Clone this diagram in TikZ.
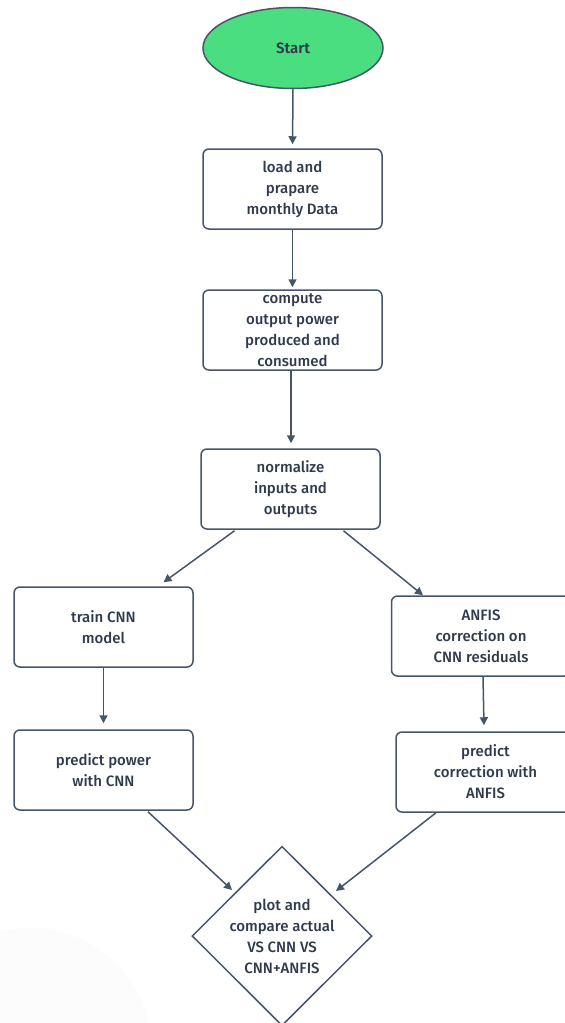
\documentclass[tikz,border=0pt]{standalone}
\usepackage{fontspec}
\setmainfont{Fira Sans}[UprightFont={* Medium},BoldFont={* SemiBold}]
\usetikzlibrary{arrows.meta,shapes.geometric,calc}
\definecolor{edge}{HTML}{475569}
\definecolor{ink}{HTML}{2F3A4C}
\definecolor{startgreen}{HTML}{4ADE80}
\definecolor{haze}{HTML}{FCFCFD}
\tikzset{
  txt/.style={text=ink, font=\fontsize{15}{21}\selectfont},
  stepbox/.style={draw=edge, line width=1.5pt, rounded corners=6pt, fill=white,
    minimum width=179pt, minimum height=80pt, inner sep=0pt,
    align=center, txt},
  startnode/.style={ellipse, draw=edge, line width=1.5pt, fill=startgreen,
    minimum width=180pt, minimum height=81pt, inner sep=0pt,
    text=ink, font=\fontsize{15}{21}\selectfont\bfseries},
  decide/.style={diamond, draw=edge, line width=1.5pt, fill=white,
    minimum width=180pt, minimum height=178pt, inner sep=0pt, aspect=1,
    align=center, txt},
  flow/.style={draw=edge, line width=1.5pt,
    -{Triangle[length=8pt,width=8pt]}},
}
\begin{document}
\begin{tikzpicture}[x=1pt,y=-1pt]
  \useasboundingbox (0,0) rectangle (565,1023);
  \fill[white] (0,0) rectangle (565,1023);
  \begin{scope}
    \clip (0,0) rectangle (565,1023);
    % soft background disc in the lower left corner
    \fill[haze] (30,1050) circle (122);

    % process steps
    \node[startnode] (start) at (293,48) {Start};
    \node[stepbox] (load) at (292.5,189) {load and\\prapare\\monthly Data};
    \node[stepbox] (power) at (292.5,330) {compute\\output power\\produced and\\consumed};
    \node[stepbox] (norm) at (290.5,489) {normalize\\inputs and\\outputs};
    \node[stepbox] (train) at (103.5,627) {train CNN\\model};
    \node[stepbox] (anfis) at (481,636) {ANFIS\\correction on\\CNN residuals};
    \node[stepbox] (pcnn) at (103.5,770) {predict power\\with CNN};
    \node[stepbox] (panfis) at (485.5,772) {predict\\correction with\\ANFIS};
    \node[decide] (plot) at (282,936) {plot and\\compare actual\\VS CNN VS\\CNN+ANFIS};

    % connectors
    \draw[flow, shorten >=4pt] (start.south) -- (load.north);
    \draw[flow, shorten >=2pt] (load.south) -- (power.north);
    \draw[flow] ($(power.south)+(-1.5,0)$) -- ($(norm.north)+(0.5,-5)$);
    \draw[flow] ($(norm.south)+(-56,1)$) -- ($(train.north)+(60,-4)$);
    \draw[flow] ($(norm.south)+(53,1)$) -- ($(anfis.north)+(-58,0)$);
    \draw[flow] (train.south) -- ($(pcnn.north)+(0,-6)$);
    \draw[flow] ($(anfis.south)+(2,0)$) -- ($(panfis.north)+(-1.5,-6)$);
    \draw[flow] ($(pcnn.south)+(44.5,1)$) -- ($(plot.center)+(-50,-46)$);
    \draw[flow] ($(panfis.south)+(-49.5,0)$) -- ($(plot.center)+(54,-45)$);
  \end{scope}
\end{tikzpicture}
\end{document}
